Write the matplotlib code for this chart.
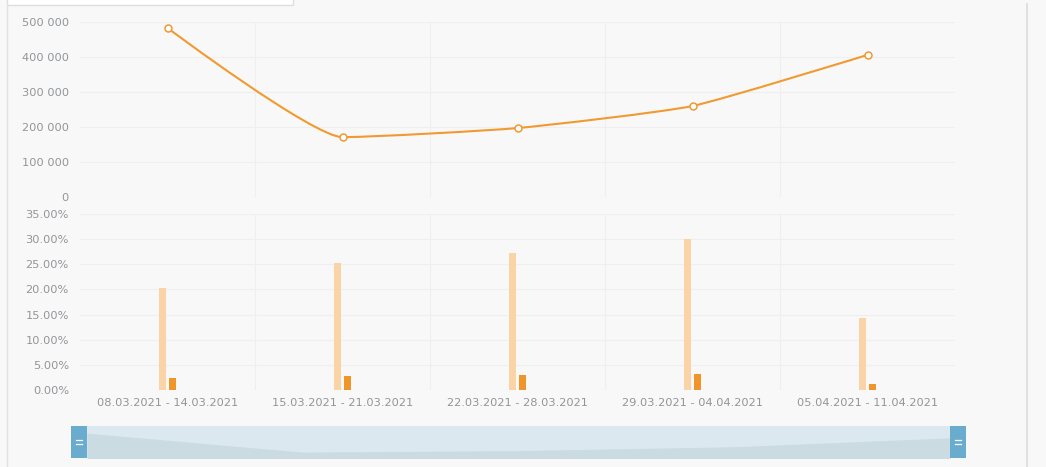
import numpy as np
import matplotlib
matplotlib.use("Agg")
import matplotlib.pyplot as plt
from matplotlib.path import Path
from matplotlib.patches import PathPatch, Rectangle
from matplotlib.ticker import FuncFormatter

# DATA
weeks = ["08.03.2021 - 14.03.2021", "15.03.2021 - 21.03.2021",
         "22.03.2021 - 28.03.2021", "29.03.2021 - 04.04.2021",
         "05.04.2021 - 11.04.2021"]
visits = [483000, 171000, 197000, 260000, 406000]
rate_light = [20.3, 25.2, 27.2, 30.0, 14.3]
rate_dark = [2.4, 2.8, 3.0, 3.2, 1.2]

# COLOURS
BG = "#f8f8f8"
GRID = "#efefef"
TXT = "#929599"
LINE = "#f09a32"
BAR_LIGHT = "#fad3a6"
BAR_DARK = "#f0952a"
NAV_BG = "#dbe8ef"
NAV_AREA = "#cbdbe2"
HANDLE = "#6aacce"

W, H = 1046, 467


def px_axes(fig, x0, y0, x1, y1):
    # pixel box (top-left origin) -> figure axes
    return fig.add_axes([x0 / W, 1 - y1 / H, (x1 - x0) / W, (y1 - y0) / H])


# spline with control points along the neighbour direction (short handles)
def spline_path(xs, ys, smoothing=5.0):
    denom = smoothing + 1
    n = len(xs)
    left = [(xs[i], ys[i]) for i in range(n)]
    right = [(xs[i], ys[i]) for i in range(n)]
    for i in range(1, n - 1):
        lx = (smoothing * xs[i] + xs[i - 1]) / denom
        ly = (smoothing * ys[i] + ys[i - 1]) / denom
        rx = (smoothing * xs[i] + xs[i + 1]) / denom
        ry = (smoothing * ys[i] + ys[i + 1]) / denom
        corr = ((ry - ly) * (rx - xs[i])) / (rx - lx) + ys[i] - ry
        ly += corr
        ry += corr
        if ly > ys[i - 1] and ly > ys[i]:
            ly = max(ys[i - 1], ys[i])
            ry = 2 * ys[i] - ly
        elif ly < ys[i - 1] and ly < ys[i]:
            ly = min(ys[i - 1], ys[i])
            ry = 2 * ys[i] - ly
        if ry > ys[i + 1] and ry > ys[i]:
            ry = max(ys[i + 1], ys[i])
            ly = 2 * ys[i] - ry
        elif ry < ys[i + 1] and ry < ys[i]:
            ry = min(ys[i + 1], ys[i])
            ly = 2 * ys[i] - ry
        left[i] = (lx, ly)
        right[i] = (rx, ry)
    verts = [(xs[0], ys[0])]
    codes = [Path.MOVETO]
    for i in range(1, n):
        verts += [right[i - 1], left[i], (xs[i], ys[i])]
        codes += [Path.CURVE4] * 3
    return verts, codes


fig = plt.figure(figsize=(W / 100, H / 100), dpi=100)
fig.patch.set_facecolor(BG)

# frame lines / top box
fig.add_artist(plt.Line2D([7 / W, 7 / W], [0, 1 - 4 / H], color="#e2e2e2", lw=1))
fig.add_artist(plt.Line2D([1027 / W, 1027 / W], [0, 1 - 4 / H], color="#dcdcdc", lw=1.2))
fig.add_artist(Rectangle((7 / W, 1 - 5 / H), 286 / W, 8 / H, facecolor="white",
                         edgecolor="#dedede", lw=1, transform=fig.transFigure))

x = np.arange(len(weeks))

# top: line
ax1 = px_axes(fig, 80, 22, 955, 197)
ax1.set_facecolor(BG)
verts, codes = spline_path(list(x.astype(float)), [float(v) for v in visits])
ax1.add_patch(PathPatch(Path(verts, codes), facecolor="none", edgecolor=LINE, lw=1.5, zorder=3))
ax1.plot(x, visits, ls="none", marker="o", ms=5, mfc="white", mec=LINE, mew=1.1, zorder=4)
ax1.set_xlim(-0.5, len(weeks) - 0.5)
ax1.set_ylim(0, 500000)
ax1.set_yticks(np.arange(0, 500001, 100000))
ax1.yaxis.set_major_formatter(FuncFormatter(lambda v, p: f"{int(v):,}".replace(",", " ")))
ax1.set_xticks([])

# bottom: bars
ax2 = px_axes(fig, 80, 214, 955, 390)
ax2.set_facecolor(BG)
bw = 0.04
ax2.bar(x - 0.026, rate_light, width=bw, color=BAR_LIGHT, zorder=3)
ax2.bar(x + 0.026, rate_dark, width=bw, color=BAR_DARK, zorder=3)
ax2.set_xlim(-0.5, len(weeks) - 0.5)
ax2.set_ylim(0, 35)
ax2.set_yticks(np.arange(0, 35.1, 5))
ax2.yaxis.set_major_formatter(FuncFormatter(lambda v, p: f"{v:.2f}%"))
ax2.set_xticks(x)
ax2.set_xticklabels(weeks)

for ax in (ax1, ax2):
    for s in ax.spines.values():
        s.set_visible(False)
    ax.tick_params(length=0, colors=TXT, labelsize=8.2, pad=8)
    ax.grid(axis="y", color=GRID, lw=0.8, zorder=0)
    for b in np.arange(0.5, len(weeks) - 1, 1):
        ax.axvline(b, color=GRID, lw=0.8, zorder=0)
ax2.tick_params(axis="x", pad=6)

# navigator
nav = px_axes(fig, 87, 426, 950, 458)
nav.set_facecolor(NAV_BG)
nav.fill_between(x, visits, 0, color=NAV_AREA, lw=0)
nav.set_xlim(0, len(weeks) - 1)
nav.set_ylim(75000, 600000)
nav.set_xticks([])
nav.set_yticks([])
for s in nav.spines.values():
    s.set_visible(False)

for hx in (71, 950):
    fig.add_artist(Rectangle((hx / W, 1 - 458 / H), 16 / W, 32 / H, facecolor=HANDLE,
                             edgecolor="none", transform=fig.transFigure))
    for dy in (440, 444):
        fig.add_artist(plt.Line2D([(hx + 5) / W, (hx + 11) / W], [1 - dy / H, 1 - dy / H],
                                  color="white", lw=0.9))

fig.savefig("out.png", dpi=100, facecolor=BG)
